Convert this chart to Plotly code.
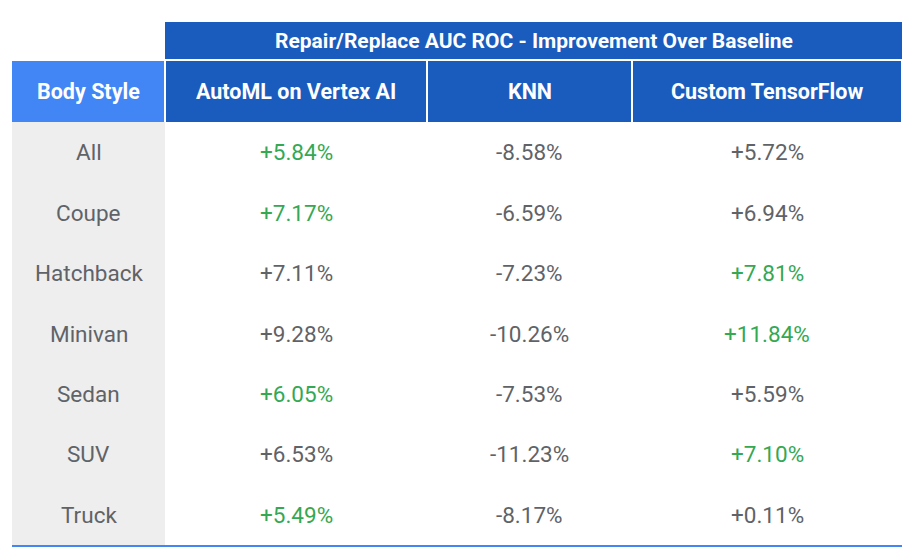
import plotly.graph_objects as go

body_styles = ["All", "Coupe", "Hatchback", "Minivan", "Sedan", "SUV", "Truck"]
columns = ["AutoML on Vertex AI", "KNN", "Custom TensorFlow"]
automl = [5.84, 7.17, 7.11, 9.28, 6.05, 6.53, 5.49]
knn = [-8.58, -6.59, -7.23, -10.26, -7.53, -11.23, -8.17]
custom_tf = [5.72, 6.94, 7.81, 11.84, 5.59, 7.10, 0.11]
group_title = "Repair/Replace AUC ROC - Improvement Over Baseline"

W, H = 914, 556
OFF = 8  # page body margin shifts the figure
edges = [12 - OFF, 165 - OFF, 427 - OFF, 632 - OFF, 902 - OFF]
top_y, head_y, body_y, bottom_y = 22 - OFF, 60 - OFF, 122 - OFF, 545 - OFF
row_h = (bottom_y - body_y) / len(body_styles)

DARK = "#1a5bbe"
LIGHT = "#4285f4"
GREEN = "#34a853"
GRAY = "#5f6368"
FONT = "Roboto"

shapes = []
ann = []

def rect(x0, y0, x1, y1, color):
    shapes.append(dict(type="rect", xref="x", yref="y", x0=x0, x1=x1, y0=y0, y1=y1,
                       fillcolor=color, line=dict(width=0), layer="below"))

def text(x, y, s, color, bold=False, size=22.5):
    ann.append(dict(x=x, y=y, xref="x", yref="y", text=f"<b>{s}</b>" if bold else s,
                    showarrow=False, font=dict(family=FONT, size=size, color=color)))

# group header
rect(edges[1], top_y, edges[4], head_y - 1, DARK)
text((edges[1] + edges[4]) / 2, (top_y + head_y) / 2, group_title, "white", True, 21)

# column headers
rect(edges[0], head_y + 1, edges[1] - 1, body_y, LIGHT)
text((edges[0] + edges[1]) / 2, (head_y + body_y) / 2, "Body Style", "white", True, 21.5)
for i, c in enumerate(columns):
    rect(edges[i + 1] + 1, head_y + 1, edges[i + 2] - 1, body_y, DARK)
    text((edges[i + 1] + edges[i + 2]) / 2, (head_y + body_y) / 2, c, "white", True, 21.5)

# body
rect(edges[0], body_y, edges[1], bottom_y, "#eeeeee")
series = [automl, knn, custom_tf]
for r, name in enumerate(body_styles):
    yc = body_y + row_h * (r + 0.5)
    text((edges[0] + edges[1]) / 2, yc, name, GRAY)
    best = max(s[r] for s in series)
    for i, s in enumerate(series):
        v = s[r]
        col = GREEN if v == best else GRAY
        text((edges[i + 1] + edges[i + 2]) / 2, yc, f"{v:+.2f}%", col)

shapes.append(dict(type="line", xref="x", yref="y", x0=edges[0], x1=edges[4],
                   y0=bottom_y + 1, y1=bottom_y + 1, line=dict(color=LIGHT, width=2)))

fig = go.Figure()
fig.update_layout(width=W, height=H, margin=dict(l=0, r=0, t=0, b=0),
                  plot_bgcolor="white", paper_bgcolor="white",
                  shapes=shapes, annotations=ann, showlegend=False,
                  xaxis=dict(range=[0, W], visible=False, fixedrange=True),
                  yaxis=dict(range=[H, 0], visible=False, fixedrange=True))
fig.write_html("out.html")
